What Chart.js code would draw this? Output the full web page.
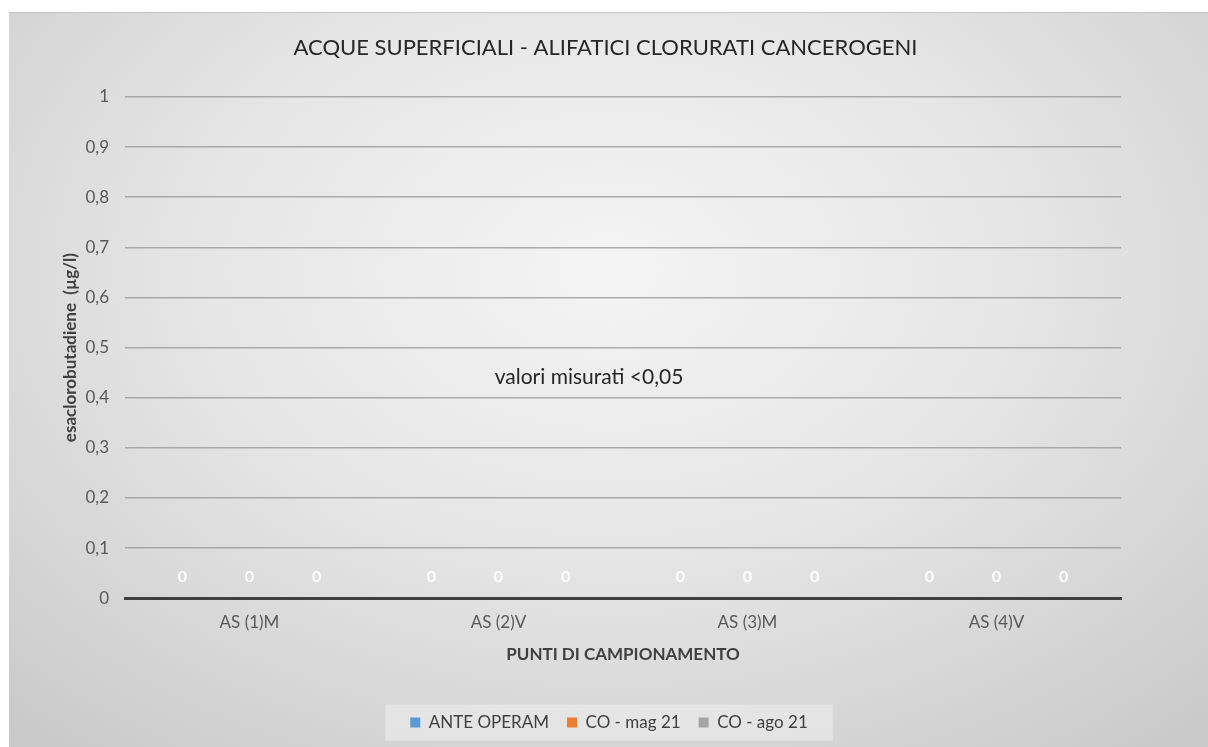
<!DOCTYPE html>
<html>
<head>
<meta charset="utf-8">
<script src="https://cdn.jsdelivr.net/npm/chart.js@4.4.0/dist/chart.umd.min.js"></script>
<style>
  html, body { margin: 0; padding: 0; background: #ffffff; }
  #panel {
    position: absolute; left: 9px; top: 12px; width: 1199px; height: 735px;
    background: radial-gradient(ellipse 75% 85% at 50% 35%, #f4f4f4 0%, #e6e6e6 45%, #c9c9c9 100%);
    border-top: 1px solid #c4c4c4;
  }
  #wrap { position: absolute; left: 0; top: 0; width: 1199px; height: 735px; }
</style>
</head>
<body>
<div id="panel"><div id="wrap"><canvas id="myChart"></canvas></div></div>
<script>
// chart values
const categories = ['AS (1)M', 'AS (2)V', 'AS (3)M', 'AS (4)V'];
const seriesNames = ['ANTE OPERAM', 'CO - mag 21', 'CO - ago 21'];
const anteOperam = [0, 0, 0, 0];
const coMag21 = [0, 0, 0, 0];
const coAgo21 = [0, 0, 0, 0];
const seriesColors = ['#5b9bd5', '#ed7d31', '#a5a5a5'];
const yTicks = [0, 0.1, 0.2, 0.3, 0.4, 0.5, 0.6, 0.7, 0.8, 0.9, 1];
const titleText = 'ACQUE SUPERFICIALI - ALIFATICI CLORURATI CANCEROGENI';
const noteText = 'valori misurati <0,05';

const fontFamily = "Lato, 'Open Sans', sans-serif";

// draws the white "0" labels over each bar
const valueLabels = {
    id: 'valueLabels',
    afterDatasetsDraw(chart) {
        const ctx = chart.ctx;
        ctx.save();
        ctx.fillStyle = '#ffffff';
        ctx.font = 'bold 16px ' + fontFamily;
        ctx.textAlign = 'center';
        ctx.textBaseline = 'middle';
        chart.data.datasets.forEach(function (ds, i) {
            const meta = chart.getDatasetMeta(i);
            meta.data.forEach(function (bar, j) {
                ctx.fillText(String(ds.data[j]), bar.x, bar.y - 21);
            });
        });
        ctx.restore();
    }
};

// title, note in the middle of the plot, light box behind the legend
const extras = {
    id: 'extras',
    beforeDraw(chart) {
        const hb = chart.legend.legendHitBoxes;
        const ctx = chart.ctx;
        ctx.save();
        ctx.fillStyle = 'rgba(255,255,255,0.35)';
        ctx.fillRect(hb[0].left - 25, hb[0].top + hb[0].height / 2 - 18,
            hb[2].left + hb[2].width - hb[0].left + 50, 36);
        ctx.restore();
    },
    afterDraw(chart) {
        const ctx = chart.ctx;
        const x = chart.scales.x;
        const y = chart.scales.y;
        ctx.save();
        ctx.textAlign = 'center';
        ctx.textBaseline = 'middle';
        ctx.fillStyle = '#262626';
        ctx.font = '22px ' + fontFamily;
        ctx.fillText(titleText, chart.width / 2 - 3, 35);
        ctx.font = '21px ' + fontFamily;
        ctx.fillText(noteText, (x.left + x.right) / 2 - 34, y.getPixelForValue(0.44));
        ctx.restore();
    }
};

function initializeChart() {
    const ctx = document.getElementById('myChart').getContext('2d');
    new Chart(ctx, {
        type: 'bar',
        data: {
            labels: categories,
            datasets: [
                { label: seriesNames[0], data: anteOperam, backgroundColor: seriesColors[0] },
                { label: seriesNames[1], data: coMag21, backgroundColor: seriesColors[1] },
                { label: seriesNames[2], data: coAgo21, backgroundColor: seriesColors[2] }
            ]
        },
        options: {
            responsive: true,
            maintainAspectRatio: false,
            animation: false,
            datasets: { bar: { categoryPercentage: 0.81, barPercentage: 0.7 } },
            layout: { padding: { left: 21, right: 20, top: 84, bottom: 7 } },
            plugins: {
                title: { display: false },
                legend: {
                    position: 'bottom',
                    labels: {
                        color: '#404040',
                        font: { family: fontFamily, size: 17 },
                        boxWidth: 10, boxHeight: 10,
                        padding: 18
                    }
                },
                tooltip: { enabled: false }
            },
            scales: {
                x: {
                    grid: { display: false },
                    border: { color: '#404040', width: 3 },
                    ticks: { color: '#595959', font: { family: fontFamily, size: 17 }, padding: 6 },
                    title: {
                        display: true, text: 'PUNTI DI CAMPIONAMENTO', color: '#404040',
                        font: { family: fontFamily, size: 17, weight: 'bold' },
                        padding: { top: 6, bottom: 31 }
                    }
                },
                y: {
                    min: 0, max: 1,
                    afterBuildTicks(axis) { axis.ticks = yTicks.map(function (v) { return { value: v }; }); },
                    afterFit(axis) { axis.width = 95; },
                    grid: {
                        drawTicks: false,
                        color: function (c) { return c.tick && c.tick.value === 0 ? '#404040' : 'rgba(150,150,150,0.75)'; },
                        lineWidth: function (c) { return c.tick && c.tick.value === 0 ? 3 : 1.5; }
                    },
                    border: { display: false },
                    ticks: {
                        color: '#595959', padding: 16,
                        font: { family: fontFamily, size: 17 },
                        callback: function (v) { return String(v).replace('.', ','); }
                    },
                    title: {
                        display: true, text: 'esaclorobutadiene  (µg/l)', color: '#404040',
                        font: { family: fontFamily, size: 17, weight: 'bold' },
                        padding: { top: 30, bottom: 0 }
                    }
                },
                // empty right-hand axis that only reserves the right margin
                yRight: {
                    position: 'right',
                    min: 0, max: 1,
                    afterFit(axis) { axis.width = 67; },
                    grid: { display: false },
                    border: { display: false },
                    ticks: { display: false }
                }
            }
        },
        plugins: [valueLabels, extras]
    });
}

document.addEventListener('DOMContentLoaded', function () {
    initializeChart();
});
</script>
</body>
</html>
